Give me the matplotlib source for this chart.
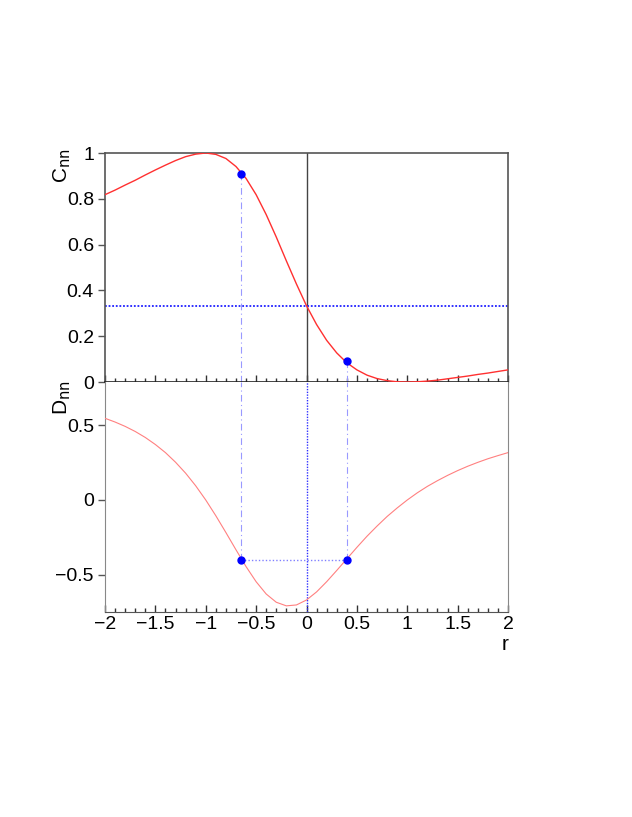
import matplotlib
matplotlib.use("Agg")
import matplotlib.pyplot as plt
from matplotlib.ticker import MultipleLocator, FixedLocator

plt.rcParams['font.family'] = ['Liberation Sans', 'DejaVu Sans']
plt.rcParams['axes.unicode_minus'] = True

# values, r every 0.1 from -2 to 2
r = [-2.0, -1.9, -1.8, -1.7, -1.6, -1.5, -1.4, -1.3, -1.2, -1.1, -1.0,
     -0.9, -0.8, -0.7, -0.6, -0.5, -0.4, -0.3, -0.2, -0.1, 0.0,
     0.1, 0.2, 0.3, 0.4, 0.5, 0.6, 0.7, 0.8, 0.9, 1.0,
     1.1, 1.2, 1.3, 1.4, 1.5, 1.6, 1.7, 1.8, 1.9, 2.0]
c_nn = [0.818, 0.838, 0.860, 0.881, 0.904, 0.926, 0.947, 0.967, 0.984, 0.995, 1.000,
        0.994, 0.976, 0.941, 0.889, 0.818, 0.731, 0.633, 0.529, 0.428, 0.333,
        0.251, 0.182, 0.127, 0.084, 0.053, 0.030, 0.015, 0.006, 0.001, 0.000,
        0.001, 0.004, 0.008, 0.014, 0.020, 0.026, 0.033, 0.039, 0.046, 0.053]
d_nn = [0.545, 0.520, 0.491, 0.457, 0.417, 0.370, 0.316, 0.252, 0.179, 0.095, 0.000,
        -0.105, -0.217, -0.332, -0.444, -0.545, -0.627, -0.682, -0.706, -0.700, -0.667,
        -0.613, -0.545, -0.470, -0.393, -0.316, -0.242, -0.174, -0.110, -0.053, 0.000,
        0.048, 0.091, 0.129, 0.164, 0.196, 0.225, 0.251, 0.275, 0.296, 0.316]

# marked points
pt_r = [-0.65, 0.4]
pt_c = [0.91, 0.09]
pt_d = [-0.4, -0.4]
c_level = 1.0 / 3.0

x_ticks = [-2, -1.5, -1, -0.5, 0, 0.5, 1, 1.5, 2]
x_labels = ['\u22122', '\u22121.5', '\u22121', '\u22120.5', '0', '0.5', '1', '1.5', '2']
c_ticks = [0, 0.2, 0.4, 0.6, 0.8, 1.0]
c_labels = ['0', '0.2', '0.4', '0.6', '0.8', '1']
d_ticks = [-0.5, 0, 0.5]
d_labels = ['\u22120.5', '0', '0.5']

W, H = 632, 817
fig = plt.figure(figsize=(W / 100, H / 100), dpi=100)
left, right = 105 / W, 508 / W
ax1 = fig.add_axes([left, 1 - 382 / H, right - left, (382 - 153) / H])
ax2 = fig.add_axes([left, 1 - 612 / H, right - left, (612 - 382) / H])

# top panel
ax1.plot(r, c_nn, color='#ff3030', lw=1.0, zorder=3)
ax1.axvline(0, color='#444444', lw=1.0, zorder=2)
ax1.axhline(c_level, color='#2020ff', lw=1.3, ls=(0, (1, 1)), zorder=2)
for x, y in zip(pt_r, pt_c):
    ax1.plot([x, x], [0, y], color='#9999ff', lw=0.8, ls=(0, (6, 3, 1, 3)), zorder=2)
ax1.plot(pt_r, pt_c, 'o', color='#0000ff', ms=5, zorder=4)
ax1.set_xlim(-2, 2)
ax1.set_ylim(0, 1)

# bottom panel
ax2.plot(r, d_nn, color='#ff8080', lw=0.8, zorder=3)
ax2.axvline(0, color='#3030ff', lw=1.0, ls=(0, (1, 1)), zorder=2)
ax2.plot(pt_r, pt_d, color='#8080ff', lw=1.0, ls=(0, (1, 1.5)), zorder=2)
for x, y in zip(pt_r, pt_d):
    ax2.plot([x, x], [y, 0.79], color='#9999ff', lw=0.8, ls=(0, (6, 3, 1, 3)), zorder=2)
ax2.plot(pt_r, pt_d, 'o', color='#0000ff', ms=5, zorder=4)
ax2.set_xlim(-2, 2)
ax2.set_ylim(-0.747, 0.787)

for ax in (ax1, ax2):
    ax.xaxis.set_major_locator(FixedLocator(x_ticks))
    ax.xaxis.set_minor_locator(MultipleLocator(0.1))
    ax.tick_params(axis='x', which='major', direction='in', length=5, width=1, color='#333333',
                   labelsize=14, pad=3)
    ax.tick_params(axis='x', which='minor', direction='in', length=3, width=1, color='#333333')
    ax.tick_params(axis='y', which='major', direction='out', length=5, width=1, color='#555555',
                   labelsize=14, pad=3)
    ax.tick_params(axis='y', which='minor', length=0)

ax1.yaxis.set_major_locator(FixedLocator(c_ticks))
ax1.set_yticklabels(c_labels)
ax1.tick_params(axis='x', labelbottom=False)
for s in ax1.spines.values():
    s.set_color('#555555')
    s.set_linewidth(1.2)
ax1.spines['bottom'].set_color('#222222')

ax2.yaxis.set_major_locator(FixedLocator(d_ticks))
ax2.set_yticklabels(d_labels)
ax2.set_xticklabels(x_labels)
ax2.spines['top'].set_visible(False)
for k in ('left', 'right'):
    ax2.spines[k].set_color('#888888')
ax2.spines['bottom'].set_color('#555555')

fig.text(62 / W, 1 - 166 / H, r'C$_{\mathrm{nn}}$', rotation=90, fontsize=15, ha='center', va='center')
fig.text(62 / W, 1 - 398 / H, r'D$_{\mathrm{nn}}$', rotation=90, fontsize=15, ha='center', va='center')
fig.text(505 / W, 1 - 644 / H, 'r', fontsize=15, ha='center', va='center')

fig.savefig('out.png', dpi=100)
